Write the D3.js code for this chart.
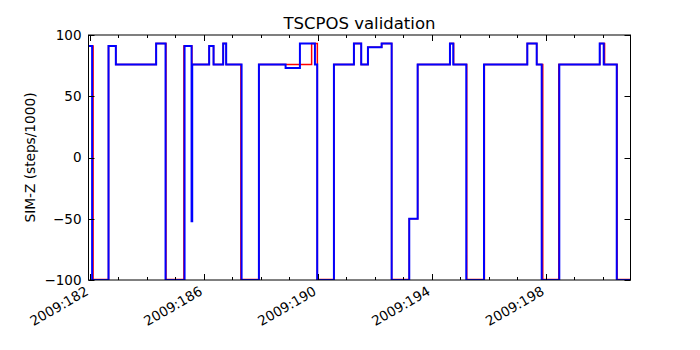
<!DOCTYPE html>
<html><head><meta charset="utf-8">
<script src="https://cdn.jsdelivr.net/npm/d3@7"></script>
<style>body{margin:0;background:#fff}svg{display:block}</style>
</head><body>
<svg id="c" width="700" height="350"></svg>
<script>
const chartTitle = "TSCPOS validation";
const yLabel = "SIM-Z (steps/1000)";
const xMajorTicks = [182, 186, 190, 194, 198];
const xTickLabels = ["2009:182", "2009:186", "2009:190", "2009:194", "2009:198"];
const xMinorTicks = [182,183,184,185,186,187,188,189,190,191,192,193,194,195,196,197,198,199,200];
const yTicks = [-100, -50, 0, 50, 100];
const yTickLabels = ["\u2212100", "\u221250", "0", "50", "100"];

// SIM-Z, step changes (day of year 2009, steps/1000)
const blueT = [181.90,182.077,182.653,182.910,184.325,184.655,185.323,185.569,185.592,186.187,186.341,186.679,186.784,187.325,187.933,188.870,189.373,189.900,189.980,190.567,191.269,191.526,191.761,192.242,192.594,193.212,193.507,194.641,194.757,195.214,195.836,197.357,197.687,197.862,198.480,199.899,200.040,200.497,201.10];
const blueV = [91,-100,91,76,93,-100,91,-52,76,91,76,93,76,-100,76,73,93,76,-100,76,93,76,90,93,-100,-50,76,93,76,-100,76,93,76,-100,76,93,76,-100,-100];

const redT = [181.90,182.112,182.653,182.910,184.325,184.670,185.300,185.580,186.187,186.341,186.679,186.784,187.300,187.933,189.784,189.985,190.567,191.269,191.526,191.761,192.242,192.594,193.212,193.507,194.641,194.770,195.230,195.850,197.357,197.687,197.900,198.460,199.900,200.070,200.510,201.10];
const redV = [91,-99.5,91,76,93,-99.5,91,76,91,76,93,76,-99.5,76,93,-99.5,76,93,76,90,93,-99.5,-50,76,93,76,-99.5,76,93,76,-99.5,76,93,76,-99.5,-99.5];

const svg = d3.select("#c");
const L = 88.5, R = 630.5, T = 35, B = 280;
const x = d3.scaleLinear().domain([181.95, 200.98]).range([L, R]);
const y = d3.scaleLinear().domain([-100, 100]).range([B, T]);
const font = "'DejaVu Sans', sans-serif";

svg.append("defs").append("clipPath").attr("id", "clip")
  .append("rect").attr("x", L).attr("y", T).attr("width", R - L).attr("height", B - T);

const line = d3.line().x(d => x(d[0])).y(d => y(d[1])).curve(d3.curveStepAfter);
const g = svg.append("g").attr("clip-path", "url(#clip)");
g.append("path").datum(redT.map((t, i) => [t, redV[i]]))
  .attr("d", line).attr("fill", "none").attr("stroke", "#ff0000").attr("stroke-width", 1.5);
g.append("path").datum(blueT.map((t, i) => [t, blueV[i]]))
  .attr("d", line).attr("fill", "none").attr("stroke", "#0000ff").attr("stroke-width", 2);

// ticks
const tk = svg.append("g").attr("stroke", "#000").attr("stroke-width", 1);
xMajorTicks.forEach(v => {
  const px = Math.round(x(v)) + 0.5;
  tk.append("line").attr("x1", px).attr("x2", px).attr("y1", B).attr("y2", B - 6);
  tk.append("line").attr("x1", px).attr("x2", px).attr("y1", T).attr("y2", T + 6);
});
xMinorTicks.filter(v => !xMajorTicks.includes(v)).forEach(v => {
  const px = Math.round(x(v)) + 0.5;
  tk.append("line").attr("x1", px).attr("x2", px).attr("y1", B).attr("y2", B - 3);
  tk.append("line").attr("x1", px).attr("x2", px).attr("y1", T).attr("y2", T + 3);
});
yTicks.forEach(v => {
  const py = Math.round(y(v)) + 0.5;
  tk.append("line").attr("x1", L).attr("x2", L + 6).attr("y1", py).attr("y2", py);
  tk.append("line").attr("x1", R).attr("x2", R - 6).attr("y1", py).attr("y2", py);
});

// frame
svg.append("rect").attr("x", L).attr("y", T).attr("width", R - L).attr("height", B - T)
  .attr("fill", "none").attr("stroke", "#000").attr("stroke-width", 1);

// tick labels
yTicks.forEach((v, i) => {
  svg.append("text").attr("x", 81.5).attr("y", y(v)).attr("dy", "0.36em")
    .attr("text-anchor", "end").attr("font-family", font).attr("font-size", 13.5)
    .attr("fill", "#000").text(yTickLabels[i]);
});
xMajorTicks.forEach((v, i) => {
  svg.append("text")
    .attr("transform", `translate(${x(v) - 0.5},294) rotate(-30)`)
    .attr("text-anchor", "end").attr("font-family", font).attr("font-size", 13.5)
    .attr("fill", "#000").text(xTickLabels[i]);
});

// axis label and title
svg.append("text").attr("transform", `translate(35,${(T + B) / 2}) rotate(-90)`)
  .attr("text-anchor", "middle").attr("font-family", font).attr("font-size", 13.7)
  .attr("fill", "#000").text(yLabel);
svg.append("text").attr("x", (L + R) / 2).attr("y", 28.5).attr("text-anchor", "middle")
  .attr("font-family", font).attr("font-size", 16.5).attr("fill", "#000").text(chartTitle);
</script>
</body></html>
